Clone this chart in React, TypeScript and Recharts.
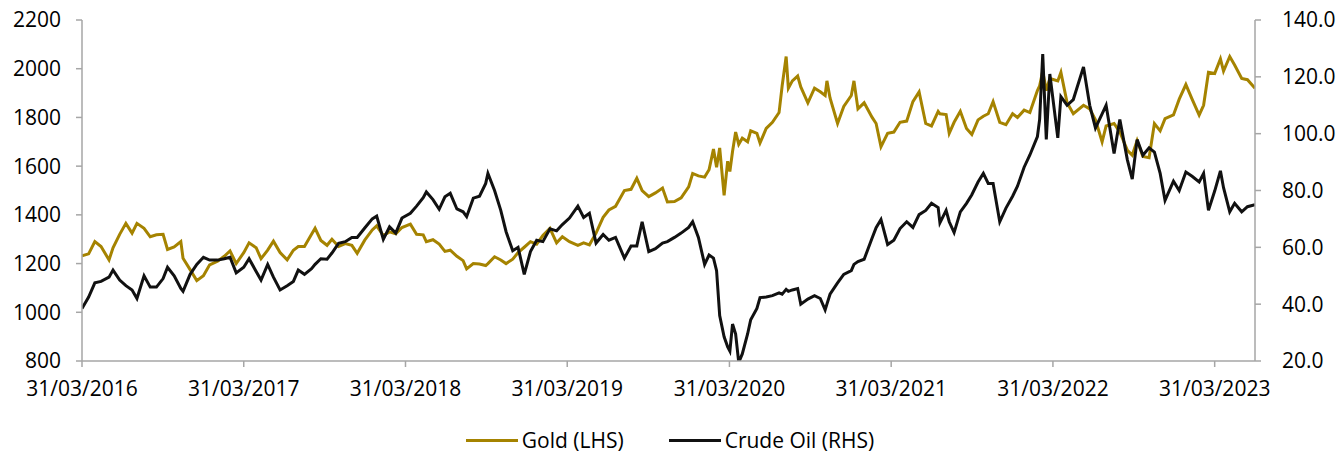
import React from 'react';
import { LineChart, Line, XAxis, YAxis } from 'recharts';

// semi-monthly readings (plus a few spike days) taken off the reference chart
const dates = [
  '2016-03-31', '2016-04-15', '2016-04-29', '2016-05-13', '2016-05-31', '2016-06-09', '2016-06-24', '2016-07-08', '2016-07-22', '2016-08-02', '2016-08-18', '2016-09-01', '2016-09-15', '2016-09-30', '2016-10-10', '2016-10-25', '2016-11-09', '2016-11-14', '2016-11-30', '2016-12-15', '2016-12-30',
  '2017-01-13', '2017-01-31', '2017-02-15', '2017-02-28', '2017-03-14', '2017-03-31', '2017-04-12', '2017-04-28', '2017-05-09', '2017-05-24', '2017-06-06', '2017-06-21', '2017-07-07', '2017-07-21', '2017-08-01', '2017-08-15', '2017-08-31', '2017-09-08', '2017-09-21', '2017-10-05', '2017-10-16', '2017-10-31', '2017-11-15', '2017-11-30', '2017-12-12', '2017-12-29',
  '2018-01-15', '2018-01-25', '2018-02-09', '2018-02-23', '2018-03-09', '2018-03-23', '2018-04-11', '2018-04-25', '2018-05-10', '2018-05-17', '2018-06-01', '2018-06-15', '2018-06-28', '2018-07-10', '2018-07-25', '2018-08-08', '2018-08-16', '2018-08-31', '2018-09-14', '2018-09-28', '2018-10-03', '2018-10-18', '2018-11-01', '2018-11-13', '2018-11-28', '2018-12-10', '2018-12-24',
  '2019-01-07', '2019-01-21', '2019-02-04', '2019-02-20', '2019-03-07', '2019-03-20', '2019-04-05', '2019-04-24', '2019-05-07', '2019-05-20', '2019-06-04', '2019-06-20', '2019-07-03', '2019-07-18', '2019-08-07', '2019-08-22', '2019-09-04', '2019-09-16', '2019-10-01', '2019-10-16', '2019-11-01', '2019-11-12', '2019-11-28', '2019-12-13', '2019-12-30',
  '2020-01-08', '2020-01-21', '2020-02-04', '2020-02-14', '2020-02-24', '2020-03-02', '2020-03-09', '2020-03-19', '2020-03-27', '2020-04-01', '2020-04-07', '2020-04-14', '2020-04-21', '2020-04-29', '2020-05-11', '2020-05-18', '2020-06-01', '2020-06-08', '2020-06-22', '2020-07-06', '2020-07-21', '2020-07-28', '2020-08-06', '2020-08-11', '2020-08-20', '2020-09-01', '2020-09-08', '2020-09-24', '2020-10-09', '2020-10-22', '2020-11-02', '2020-11-06', '2020-11-13', '2020-11-30', '2020-12-14', '2020-12-31',
  '2021-01-06', '2021-01-15', '2021-01-29', '2021-02-16', '2021-02-25', '2021-03-08', '2021-03-23', '2021-04-06', '2021-04-20', '2021-05-05', '2021-05-19', '2021-06-02', '2021-06-17', '2021-06-30', '2021-07-15', '2021-07-19', '2021-08-02', '2021-08-09', '2021-08-20', '2021-09-03', '2021-09-17', '2021-09-29', '2021-10-13', '2021-10-25', '2021-11-05', '2021-11-16', '2021-12-01', '2021-12-15', '2021-12-30',
  '2022-01-10', '2022-01-25', '2022-02-07', '2022-02-24', '2022-03-01', '2022-03-08', '2022-03-16', '2022-03-24', '2022-04-11', '2022-04-18', '2022-05-02', '2022-05-16', '2022-06-08', '2022-06-22', '2022-07-05', '2022-07-20', '2022-07-29', '2022-08-16', '2022-08-29', '2022-09-15', '2022-09-26', '2022-10-07', '2022-10-20', '2022-11-03', '2022-11-15', '2022-11-28', '2022-12-09', '2022-12-28',
  '2023-01-10', '2023-01-25', '2023-02-08', '2023-02-24', '2023-03-06', '2023-03-17', '2023-03-31', '2023-04-13', '2023-04-20', '2023-05-04', '2023-05-15', '2023-05-31', '2023-06-13', '2023-06-30',
];

const gold = [
  1232, 1240, 1290, 1270, 1215, 1265, 1320, 1365, 1325, 1365, 1345, 1310, 1318, 1320, 1258, 1268, 1290, 1222, 1175, 1130, 1150,
  1195, 1210, 1230, 1252, 1200, 1245, 1285, 1265, 1220, 1255, 1292, 1245, 1215, 1255, 1270, 1270, 1320, 1345, 1295, 1275, 1300, 1270, 1282, 1275, 1242, 1296,
  1338, 1355, 1315, 1330, 1322, 1348, 1362, 1320, 1318, 1290, 1298, 1280, 1250, 1255, 1230, 1212, 1178, 1200, 1198, 1192, 1200, 1228, 1215, 1200, 1218, 1245, 1267,
  1290, 1280, 1315, 1345, 1285, 1310, 1290, 1275, 1285, 1277, 1325, 1390, 1420, 1435, 1500, 1505, 1550, 1500, 1475, 1490, 1510, 1453, 1455, 1470, 1515,
  1570, 1560, 1555, 1585, 1670, 1595, 1675, 1480, 1620, 1578, 1660, 1740, 1690, 1715, 1700, 1745, 1735, 1695, 1755, 1780, 1820, 1930, 2050, 1920, 1950, 1970, 1925, 1860, 1920, 1905, 1890, 1950, 1880, 1775, 1845, 1890,
  1950, 1835, 1860, 1800, 1775, 1680, 1735, 1740, 1780, 1785, 1865, 1905, 1775, 1765, 1825, 1815, 1812, 1735, 1780, 1825, 1755, 1730, 1790, 1805, 1815, 1865, 1780, 1770, 1815,
  1800, 1830, 1820, 1910, 1930, 1990, 1910, 1960, 1950, 1985, 1860, 1815, 1850, 1835, 1790, 1700, 1765, 1775, 1740, 1665, 1645, 1705, 1640, 1635, 1775, 1745, 1795, 1810,
  1875, 1935, 1875, 1810, 1850, 1985, 1980, 2040, 1990, 2050, 2015, 1960, 1955, 1920,
];

const oil = [
  38.5, 42.5, 47.5, 48, 49.5, 52, 48.5, 46.5, 45, 42, 50, 46, 46, 49, 53, 50, 45.5, 44.5, 50.5, 54, 56.5,
  55.5, 55.5, 56, 56.5, 51, 53, 56, 51.5, 48.5, 54, 49.5, 45, 46.5, 48, 52, 50.5, 52.5, 54, 56, 55.8, 58, 61.4, 62, 63.5, 63.5, 66.8,
  70, 71, 62.8, 67.2, 65, 70.3, 72, 74.5, 77.5, 79.5, 76.8, 73.4, 77.8, 79, 73.5, 72.5, 70.8, 77.3, 78, 82.5, 86, 80, 73, 65.5, 58.8, 60, 50.5,
  58.5, 62.5, 62, 66.5, 65.8, 68, 70.3, 74.5, 70.5, 72, 61.5, 64.5, 62.5, 63.5, 56.2, 60.5, 60.5, 69, 58.5, 59.5, 61.5, 62, 63.5, 65, 67,
  69, 63.5, 54, 57.3, 56.2, 51.8, 36, 28.5, 25, 23.5, 33, 29.5, 19.5, 22.5, 29.5, 34.5, 38.5, 42.3, 42.5, 43, 44, 43.5, 45.2, 44.5, 45, 45.5, 40, 41.8, 43, 42, 38, 40, 43.5, 47.5, 50.5, 51.8,
  54, 55, 55.8, 63.3, 66.9, 69.8, 61, 62.5, 66.6, 69, 67, 71.5, 73, 75.5, 74, 68.6, 73, 69, 65.2, 72.5, 75.5, 78.5, 83, 86, 82.5, 82.5, 69, 73.8, 78,
  81.5, 88.2, 92.5, 99, 105, 128, 98, 121, 98.5, 113, 110, 112, 123.5, 110, 102, 107, 110, 93, 105, 90.8, 84, 97.9, 92.4, 95, 93.5, 86, 76.5, 83.3,
  80, 86.5, 85, 83, 86, 73, 79.8, 86.9, 81, 72.5, 75.5, 72.5, 74.3, 75,
];

const tickYears = [2016, 2017, 2018, 2019, 2020, 2021, 2022, 2023];
const goldTicks = [800, 1000, 1200, 1400, 1600, 1800, 2000, 2200];
const oilTicks = [20, 40, 60, 80, 100, 120, 140];

const data = dates.map((d, i) => ({ t: new Date(d).getTime(), gold: gold[i], oil: oil[i] }));
const xTicks = tickYears.map((y) => Date.UTC(y, 2, 31));
const xStart = Date.UTC(2016, 2, 31);
const xEnd = Date.UTC(2023, 5, 30);

const GOLD = '#A58300';
const OIL = '#111111';
const AXIS = '#A6A6A6';
const FONT = "'Open Sans', 'Noto Sans', sans-serif";
const tickStyle = { fill: '#000', fontSize: 21, fontFamily: FONT };

const fmtDate = (v: number) => {
  const d = new Date(v);
  return `31/03/${d.getUTCFullYear()}`;
};

const LegendItem = ({ color, label }: { color: string; label: string }) => (
  <div style={{ display: 'flex', alignItems: 'center' }}>
    <div style={{ width: 52, height: 3, background: color, marginRight: 4 }} />
    <span>{label}</span>
  </div>
);

export default function App() {
  return (
    <div style={{ position: 'relative', width: 1340, height: 452 }}>
      <style>{'body{margin:0;}'}</style>
      <LineChart width={1340} height={452} data={data} margin={{ top: 20, right: 0, bottom: 0, left: 0 }}>
        <XAxis
          dataKey="t"
          type="number"
          domain={[xStart, xEnd]}
          ticks={xTicks}
          tickFormatter={fmtDate}
          interval={0}
          height={91}
          tickSize={6}
          tickMargin={14}
          axisLine={{ stroke: AXIS, strokeWidth: 1.5 }}
          tickLine={{ stroke: AXIS, strokeWidth: 1.5 }}
          tick={tickStyle}
          allowDataOverflow
        />
        <YAxis
          yAxisId="left"
          orientation="left"
          width={82}
          domain={[800, 2200]}
          ticks={goldTicks}
          interval={0}
          tickSize={6}
          tickMargin={15}
          axisLine={{ stroke: AXIS, strokeWidth: 1.5 }}
          tickLine={{ stroke: AXIS, strokeWidth: 1.5 }}
          tick={tickStyle}
          allowDataOverflow
        />
        <YAxis
          yAxisId="right"
          orientation="right"
          width={85}
          domain={[20, 140]}
          ticks={oilTicks}
          interval={0}
          tickSize={6}
          tickMargin={21}
          tickFormatter={(v: number) => v.toFixed(1)}
          axisLine={{ stroke: AXIS, strokeWidth: 1.5 }}
          tickLine={{ stroke: AXIS, strokeWidth: 1.5 }}
          tick={tickStyle}
          allowDataOverflow
        />
        <Line yAxisId="left" type="linear" dataKey="gold" stroke={GOLD} strokeWidth={3} dot={false} isAnimationActive={false} />
        <Line yAxisId="right" type="linear" dataKey="oil" stroke={OIL} strokeWidth={3} dot={false} isAnimationActive={false} />
      </LineChart>
      <div
        style={{
          position: 'absolute',
          top: 425,
          left: 0,
          width: 1340,
          display: 'flex',
          justifyContent: 'center',
          gap: 45,
          fontFamily: FONT,
          fontSize: 21,
          lineHeight: '30px',
          color: '#000',
        }}
      >
        <LegendItem color={GOLD} label="Gold (LHS)" />
        <LegendItem color={OIL} label="Crude Oil (RHS)" />
      </div>
    </div>
  );
}
